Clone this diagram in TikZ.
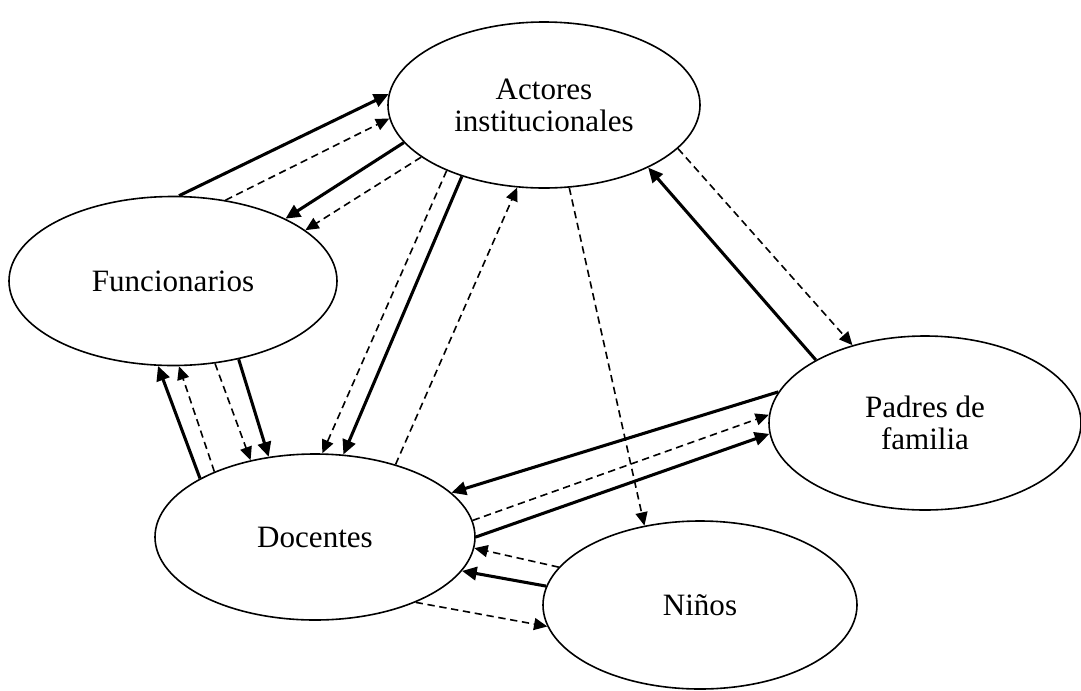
\documentclass[tikz,border=0pt]{standalone}
\usepackage{fontspec}
\setmainfont{Liberation Serif}
\usetikzlibrary{shapes.geometric,arrows.meta}
\tikzset{
  actor/.style={draw, ellipse, line width=1.2pt, inner sep=0pt, align=center,
    font=\fontsize{23.3pt}{24pt}\selectfont},
  strong/.style={line width=2.3pt, -{Triangle[length=11pt,width=10pt]}},
  weak/.style={line width=1.2pt, dash pattern=on 5.5pt off 3.5pt, -{Triangle[length=10pt,width=9pt]}},
}
\begin{document}
\begin{tikzpicture}[x=0.75pt,y=-0.75pt]
\useasboundingbox (0,0) rectangle (1081,690);
\node[actor, minimum width=234pt, minimum height=124.5pt] (A) at (544,105) {Actores\\institucionales};
\node[actor, minimum width=246pt, minimum height=126.75pt] (F) at (173,281) {Funcionarios};
\node[actor, minimum width=234pt, minimum height=130.5pt] (P) at (925,423) {Padres de\\familia};
\node[actor, minimum width=240pt, minimum height=124.5pt] (D) at (315,537) {Docentes};
\node[actor, minimum width=235.5pt, minimum height=126pt] (N) at (700,605) {Niños};
% Funcionarios - Actores
\draw[strong] (F.86.6) -- (A.176.4);
\draw[weak] (F.57.9) -- (A.185.5);
\draw[strong] (A.195.1) -- (F.29.7);
\draw[weak] (A.203.1) -- (F.21.2);
% Docentes - Funcionarios
\draw[strong] (D.153.8) -- (F.260.2);
\draw[weak] (D.147.5) -- (F.274.6);
\draw[weak] (F.297.3) -- (D.130.7);
\draw[strong] (F.310.1) -- (D.120.5);
% Actores - Docentes
\draw[weak] (A.214.5) -- (D.85.3);
\draw[strong] (A.221.8) -- (D.71.8);
\draw[weak] (D.42.1) -- (A.252.4);
% Actores - Padres
\draw[strong] (P.150.9) -- (A.329.7);
\draw[weak] (A.342.8) -- (P.133.1);
% Actores - Niños
\draw[weak] (A.287) -- (N.125.9);
% Docentes - Padres
\draw[strong] (P.168.3) -- (D.18.8);
\draw[weak] (D.6.1) -- (P.177.8);
\draw[strong] (D.0.7) -- (P.184.5);
% Docentes - Niños
\draw[weak] (N.165.4) -- (D.356.1);
\draw[strong] (N.173.7) -- (D.347.2);
\draw[weak] (D.327.8) -- (N.188.5);
\end{tikzpicture}
\end{document}
